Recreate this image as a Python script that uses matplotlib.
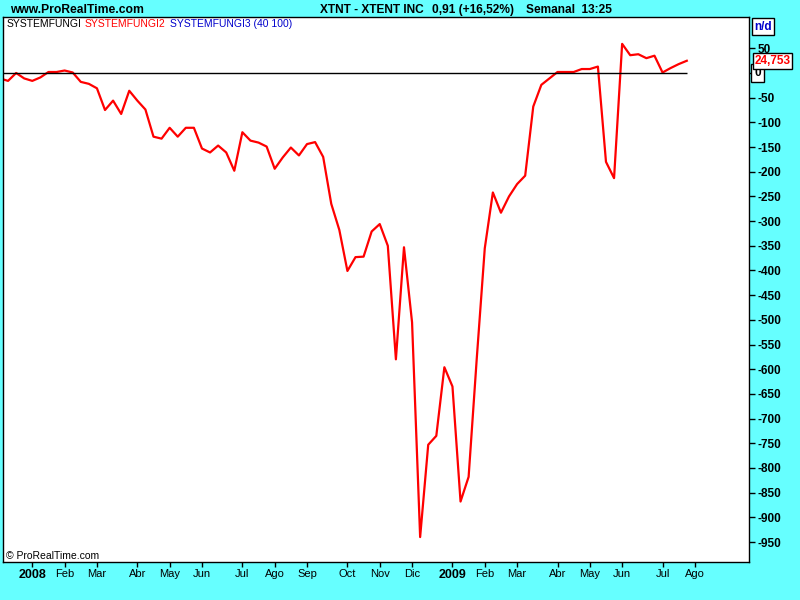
import pandas as pd
import matplotlib
matplotlib.use("Agg")
import matplotlib.pyplot as plt

plt.rcParams['font.family'] = ['Liberation Sans', 'DejaVu Sans']

# weekly values (Monday bars), first one falls just outside the left edge
start_date = '2007-12-10'
values = [-11, -16, 0, -11, -16, -9, 2, 2, 5, 1, -18,
          -22, -31, -75, -56, -83, -36, -56, -74, -129, -133,
          -111, -129, -111, -111, -153, -161, -147, -161, -198, -120,
          -137, -141, -149, -194, -171, -151, -167, -144, -140, -170,
          -265, -318, -401, -373, -372, -321, -306, -350, -580, -353,
          -505, -940, -753, -735, -596, -635, -868, -818, -580, -355,
          -242, -283, -250, -225, -208, -68, -24, -11, 2, 2,
          2, 8, 8, 13, -180, -213, 59, 36, 38, 30,
          35, 1, 10, 18, 24.753]

tick_dates = ['2008-01-07', '2008-02-04', '2008-03-03', '2008-04-07', '2008-05-05',
              '2008-06-02', '2008-07-07', '2008-08-04', '2008-09-01', '2008-10-06',
              '2008-11-03', '2008-12-01', '2009-01-05', '2009-02-02', '2009-03-02',
              '2009-04-06', '2009-05-04', '2009-06-01', '2009-07-06', '2009-08-03']
tick_labels = ['2008', 'Feb', 'Mar', 'Abr', 'May', 'Jun', 'Jul', 'Ago', 'Sep', 'Oct',
               'Nov', 'Dic', '2009', 'Feb', 'Mar', 'Abr', 'May', 'Jun', 'Jul', 'Ago']
y_ticks = list(range(50, -1000, -50))

dates = pd.date_range(start_date, periods=len(values), freq='7D')
week = pd.Timedelta(days=7)

fig = plt.figure(figsize=(8, 6), dpi=100, facecolor='#66FFFF')
ax = fig.add_axes([3 / 800, 38 / 600, 746 / 800, 545 / 600])
ax.set_facecolor('white')

ax.plot(dates, values, color='#FF0000', lw=1.6)
x_left = dates[1] - 0.625 * week
ax.hlines(0, x_left, dates[-1], color='black', lw=1)

ax.set_xlim(x_left, dates[1] + 91.7 * week)
ax.set_ylim(-990.5, 113.4)

# x axis
ax.set_xticks(pd.to_datetime(tick_dates))
ax.set_xticklabels(tick_labels)
ax.tick_params(axis='x', direction='out', length=3.5, width=1, pad=1.5,
               labelsize=8, colors='black')
for lab in ax.get_xticklabels():
    if lab.get_text().isdigit():
        lab.set_fontweight('bold')
        lab.set_fontsize(9)

# y axis on the right
ax.yaxis.tick_right()
ax.set_yticks(y_ticks)
ax.set_yticklabels(['' if v == 0 else str(v) for v in y_ticks], fontweight='bold')
ax.tick_params(axis='y', direction='out', length=4.5, width=1, pad=1.5,
               labelsize=8.5, colors='black')
for s in ax.spines.values():
    s.set_color('black')
    s.set_linewidth(1)

ytr = ax.get_yaxis_transform()
ax.text(1.0072, 0, '0', transform=ytr, ha='left', va='center', fontsize=8.5,
        fontweight='bold', color='black',
        bbox=dict(boxstyle='square,pad=0.25', fc='white', ec='black', lw=1))
ax.text(1.0072, values[-1], '24,753', transform=ytr, ha='left', va='center',
        fontsize=8.5, fontweight='bold', color='#FF0000',
        bbox=dict(boxstyle='square,pad=0.15', fc='white', ec='black', lw=1))
ax.text(1.0072, 0.982, 'n/d', transform=ax.transAxes, ha='left', va='center',
        fontsize=8.5, fontweight='bold', color='#0000CC',
        bbox=dict(boxstyle='square,pad=0.2', fc='white', ec='black', lw=1))

# legend-like header inside the plot
ax.text(4 / 746, 0.987, 'SYSTEMFUNGI', transform=ax.transAxes, fontsize=7.5,
        color='black', va='center', ha='left')
ax.text(82 / 746, 0.987, 'SYSTEMFUNGI2', transform=ax.transAxes, fontsize=7.5,
        color='#FF0000', va='center', ha='left')
ax.text(167 / 746, 0.987, 'SYSTEMFUNGI3 (40 100)', transform=ax.transAxes,
        fontsize=7.5, color='#0000CC', va='center', ha='left')
ax.text(3 / 746, 0.011, '\u00a9 ProRealTime.com', transform=ax.transAxes,
        fontsize=7.5, color='black', va='center', ha='left')

# top header
fig.text(10 / 800, 1 - 10 / 600, 'www.ProRealTime.com', fontsize=8.7,
         fontweight='bold', va='center', ha='left')
fig.text(320 / 800, 1 - 10 / 600, 'XTNT - XTENT INC', fontsize=8.6,
         fontweight='bold', va='center', ha='left')
fig.text(432 / 800, 1 - 10 / 600, '0,91 (+16,52%)', fontsize=8.6,
         fontweight='bold', va='center', ha='left')
fig.text(526 / 800, 1 - 10 / 600, 'Semanal  13:25', fontsize=8.6,
         fontweight='bold', va='center', ha='left')

fig.savefig('out.png', dpi=100, facecolor=fig.get_facecolor())
